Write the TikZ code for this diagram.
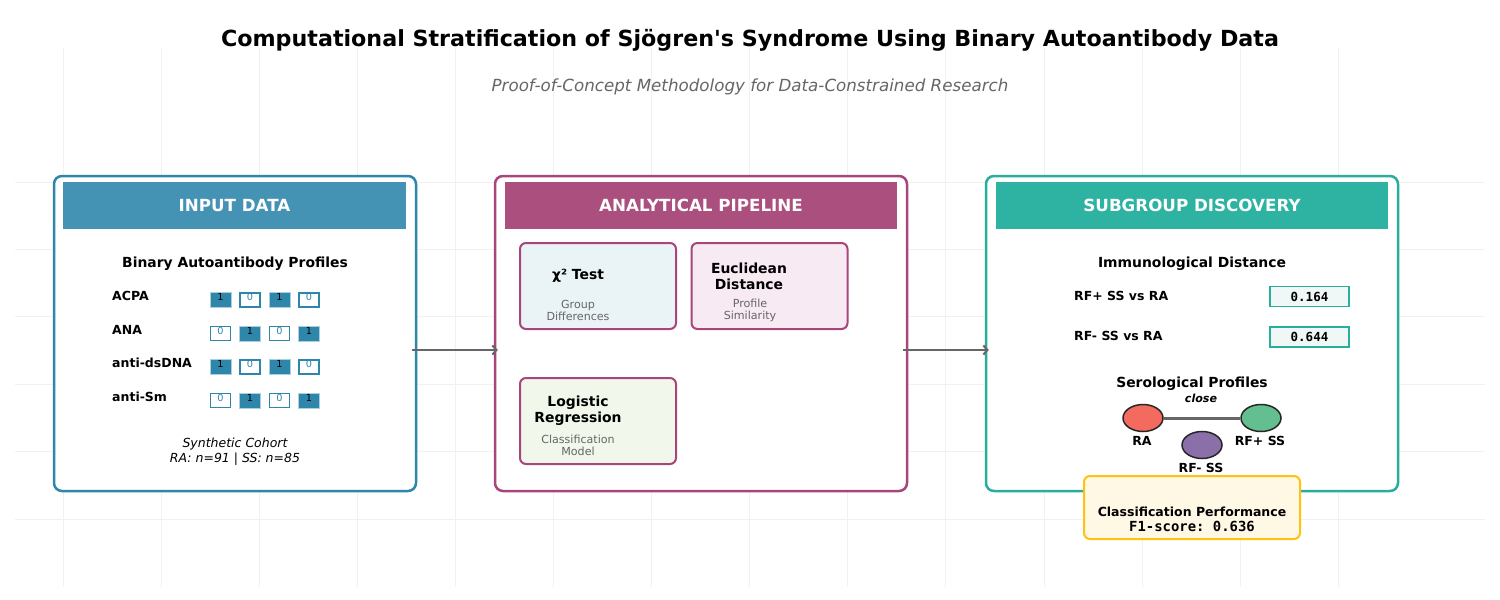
\documentclass[tikz,border=0pt]{standalone}
\usepackage{fontspec}
\setmainfont{DejaVu Sans}[Ligatures=TeXOff]
\setmonofont{DejaVu Sans Mono}
\usetikzlibrary{arrows.meta,positioning,shapes.geometric}

\definecolor{inblue}{HTML}{2E86AB}
\definecolor{inhead}{HTML}{4493B5}
\definecolor{pipeline}{HTML}{A8457A}
\definecolor{pipehead}{HTML}{AB507E}
\definecolor{subteal}{HTML}{2AAE9C}
\definecolor{subhead}{HTML}{2EB2A1}
\definecolor{gridgrey}{HTML}{F1F1F1}
\definecolor{txtgrey}{HTML}{666666}
\definecolor{chibg}{HTML}{EAF4F7}
\definecolor{eucbg}{HTML}{F7EAF3}
\definecolor{logbg}{HTML}{F1F7EA}
\definecolor{valbg}{HTML}{EFF8F6}
\definecolor{perfbg}{HTML}{FFF8E5}
\definecolor{perfgold}{HTML}{FFC20E}
\definecolor{racol}{HTML}{F26B5E}
\definecolor{rfpcol}{HTML}{63BF8F}
\definecolor{rfmcol}{HTML}{8B6FA8}

\newcommand{\fsz}[2]{\fontsize{#1}{#2}\selectfont}

\tikzset{
  gridline/.style={draw=gridgrey,line width=1pt},
  panel/.style={draw=#1,line width=2.5pt,rounded corners=8pt,fill=white,inner sep=0pt},
  header/.style={fill=#1,inner sep=0pt,text=white,font=\fsz{16.7}{20}\bfseries},
  method/.style={draw=pipeline,line width=2pt,rounded corners=6pt,fill=#1,inner sep=0pt,minimum width=156pt,minimum height=86pt},
  mtitle/.style={align=center,font=\fsz{13.9}{16}\bfseries},
  msub/.style={align=center,text=txtgrey,font=\fsz{11.1}{12}},
  heading/.style={font=\fsz{13.9}{16}\bfseries},
  rowlabel/.style={anchor=west,inner sep=0pt,font=\fsz{12.5}{15}\bfseries},
  cellon/.style={fill=inblue,draw=inblue!40,line width=0.5pt,minimum width=21pt,minimum height=15pt,inner sep=0pt,
    label={[font=\fsz{9.7}{10},yshift=3pt,inner sep=0pt]center:1}},
  celloff/.style={fill=white,draw=inblue,line width=1.3pt,minimum width=20pt,minimum height=14pt,inner sep=0pt,
    label={[font=\fsz{9.7}{10},text=inblue,yshift=3pt,inner sep=0pt]center:0}},
  valbox/.style={draw=subteal,line width=1.5pt,fill=valbg,minimum width=79pt,minimum height=20pt,inner sep=0pt,
    font=\fsz{12.5}{14}\ttfamily\bfseries},
  group/.style={ellipse,draw=black!85,line width=1.5pt,fill=#1,minimum width=40pt,minimum height=27pt,inner sep=0pt},
  glabel/.style={font=\fsz{12.5}{14}\bfseries,inner sep=0pt},
  flow/.style={draw=txtgrey,line width=2pt,-{Straight Barb[length=4pt,width=9pt]}}
}

\begin{document}
\begin{tikzpicture}[x=1pt,y=-1pt]
\useasboundingbox (0,0) rectangle (1500,600);
\fill[white] (0,0) rectangle (1500,600);

% faint background grid
\foreach \gx in {0,...,13}
  \draw[gridline] ({63+98.1*\gx},48) -- ({63+98.1*\gx},587);
\foreach \gy in {0,...,5}
  \draw[gridline] (15,{182+67.4*\gy}) -- (1485,{182+67.4*\gy});

% titles
\node[font=\fsz{22.2}{26}\bfseries] (title) at (750,40) {Computational Stratification of Sjögren's Syndrome Using Binary Autoantibody Data};
\node[font=\fsz{16.7}{20}\itshape,text=txtgrey] (subtitle) at (750,87) {Proof-of-Concept Methodology for Data-Constrained Research};

% panels
\node[panel=inblue,minimum width=362pt,minimum height=315pt] (p0) at (235,333.5) {};
\node[panel=pipeline,minimum width=412pt,minimum height=315pt] (p1) at (701,333.5) {};
\node[panel=subteal,minimum width=412pt,minimum height=315pt] (p2) at (1192,333.5) {};
\node[header=inhead,minimum width=343pt,minimum height=47pt] (h0) at (234.5,205.5) {INPUT DATA};
\node[header=pipehead,minimum width=392pt,minimum height=47pt] (h1) at (701,205.5) {ANALYTICAL PIPELINE};
\node[header=subhead,minimum width=392pt,minimum height=47pt] (h2) at (1192,205.5) {SUBGROUP DISCOVERY};

% input data
\node[heading] (bap) at (235,264) {Binary Autoantibody Profiles};
\foreach \lab [count=\r] in {ACPA,ANA,anti-dsDNA,anti-Sm} {
  \node[rowlabel] (l\r) at (112,{296+33.5*(\r-1)}) {\lab};
  \foreach \c in {1,...,4} {
    \pgfmathtruncatemacro{\v}{mod(\r+\c+1,2)}
    \ifnum\v=1
      \node[cellon] (c\r\c) at ({220.5+29.5*(\c-1)},{300+33.5*(\r-1)}) {};
    \else
      \node[celloff] (c\r\c) at ({220.5+29.5*(\c-1)},{300+33.5*(\r-1)}) {};
    \fi
  }
}
\node[align=center,font=\fsz{12.5}{15}\itshape] (cohort) at (235,452) {Synthetic Cohort\\RA: n=91 | SS: n=85};

% analytical pipeline
\node[method=chibg] (m0) at (598,286) {};
\node[method=eucbg] (m1) at (769.5,286) {};
\node[method=logbg] (m2) at (598,421) {};
\node[mtitle] (t0) at (578,276) {χ² Test};
\node[msub] (s0) at (578,310) {Group\\Differences};
\node[mtitle] (t1) at (749,276) {Euclidean\\Distance};
\node[msub] (s1) at (750,310) {Profile\\Similarity};
\node[mtitle] (t2) at (578,411) {Logistic\\Regression};
\node[msub] (s2) at (578,445) {Classification\\Model};

% subgroup discovery
\node[heading] (imd) at (1192,264) {Immunological Distance};
\node[rowlabel] (d1) at (1074,296) {RF+ SS vs RA};
\node[rowlabel] (d2) at (1074,336) {RF- SS vs RA};
\node[valbox] (v1) at (1309.5,296.5) {0.164};
\node[valbox] (v2) at (1309.5,337) {0.644};
\node[heading] (serp) at (1192,384) {Serological Profiles};
\node[font=\fsz{11.1}{12}\bfseries\itshape,inner sep=0pt] (close) at (1201,398) {close};
\node[group=racol] (ra) at (1143,418) {};
\node[group=rfpcol] (rfp) at (1261,418) {};
\node[group=rfmcol] (rfm) at (1202,445) {};
\draw[draw=txtgrey,line width=3pt] (ra) -- (rfp);
\node[glabel] (lra) at (1142,441) {RA};
\node[glabel] (lrfp) at (1260,441) {RF+ SS};
\node[glabel] (lrfm) at (1201,468) {RF- SS};
\node[draw=perfgold,line width=2pt,rounded corners=6pt,fill=perfbg,minimum width=216pt,minimum height=63pt] (perf) at (1192,507.5) {};
\node[glabel] (pt) at (1192,512) {Classification Performance};
\node[font=\fsz{13.9}{15}\ttfamily\bfseries,inner sep=0pt] (f1) at (1192,526) {F1-score: 0.636};

% flow arrows
\draw[flow] ([xshift=-5pt,yshift=-16.5pt]p0.east) -- ([xshift=4pt,yshift=-16.5pt]p1.west);
\draw[flow] ([xshift=-5pt,yshift=-16.5pt]p1.east) -- ([xshift=4pt,yshift=-16.5pt]p2.west);
\end{tikzpicture}
\end{document}
